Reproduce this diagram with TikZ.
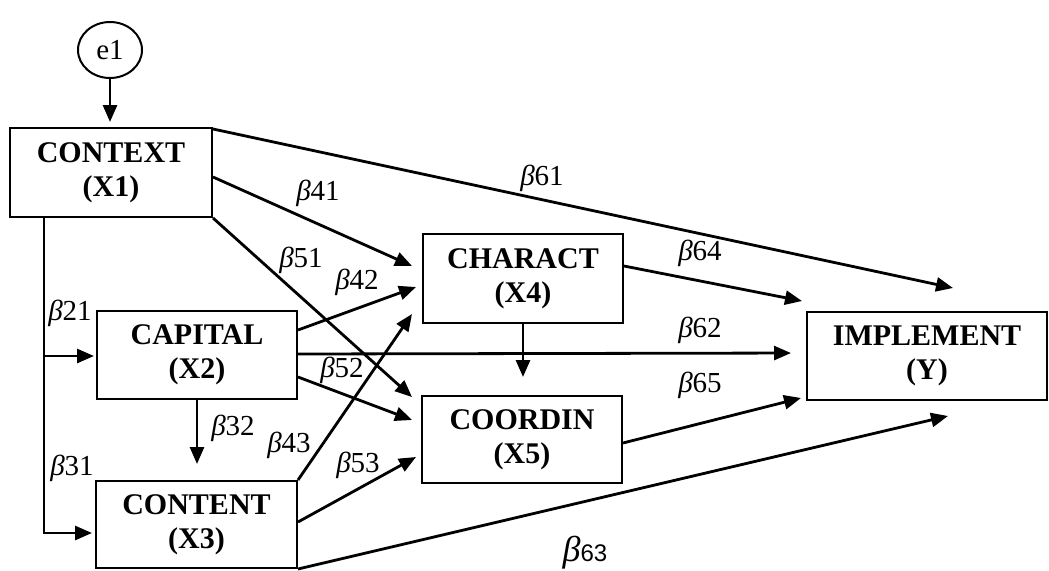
\documentclass[tikz,border=0pt]{standalone}
\usepackage{fontspec}
\setmainfont{Liberation Serif}
\newfontfamily\betasans{Liberation Sans}
\usetikzlibrary{arrows.meta,shapes.geometric,calc}

\newcommand{\coef}[1]{\textit{β}#1}

\tikzset{
  var/.style={draw, line width=2pt, rectangle, align=center,
    font=\fontsize{30}{34}\selectfont\bfseries, inner sep=0pt},
  err/.style={draw, line width=2pt, ellipse, minimum width=64pt,
    minimum height=56pt, inner sep=0pt, font=\fontsize{29}{30}\selectfont},
  path/.style={line width=2.8pt, -{Triangle[length=17pt,width=14pt]}},
  link/.style={line width=2.8pt},
  coefl/.style={font=\fontsize{29}{30}\selectfont, inner sep=0pt}
}

\begin{document}
\begin{tikzpicture}[x=1pt,y=-1pt]
  \useasboundingbox (0,0) rectangle (1049,570);

  % variables
  \node[err] (e1) at (110,50) {e1};
  \node[var, minimum width=202pt, minimum height=89pt] (ctx)  at (111,172.5) {CONTEXT\\(X1)};
  \node[var, minimum width=200pt, minimum height=88pt] (cap)  at (197,355)   {CAPITAL\\(X2)};
  \node[var, minimum width=201pt, minimum height=87pt] (cont) at (196.5,524.5) {CONTENT\\(X3)};
  \node[var, minimum width=200pt, minimum height=89pt] (char) at (523,278.5) {CHARACT\\(X4)};
  \node[var, minimum width=200pt, minimum height=87pt] (cood) at (522,439.5) {COORDIN\\(X5)};
  \node[var, minimum width=240pt, minimum height=88pt] (impl) at (927,356)   {IMPLEMENT\\(Y)};

  % error term
  \draw[path, shorten >=5pt] (e1.south) -- (ctx.north -| e1.south);

  % CONTEXT down the left side into CAPITAL and CONTENT
  \coordinate (spine) at ($(ctx.south west)+(35,0)$);
  \coordinate (capin) at ($(cap.west)+(-2,1)$);
  \coordinate (contin) at ($(cont.west)+(-3,8.5)$);
  \draw[link] (spine) -- ($(spine |- contin)+(0,1.4)$);
  \draw[path] ($(spine |- capin)+(-1.4,0)$) -- (capin);
  \draw[path] ($(spine |- contin)+(-1.4,0)$) -- (contin);

  % from CONTEXT
  \draw[path] ($(ctx.east)+(0,4.5)$) -- ($(char.west)+(-10,-12.5)$);
  \draw[path] (ctx.south east) -- ($(cood.north west)+(-9,2)$);
  \draw[path] ($(ctx.north east)+(0,2)$) -- ($(impl.north)+(26,-23)$);

  % from CAPITAL
  \draw[path] ($(cap.east)+(0,-25)$) -- ($(char.west)+(-6,8.5)$);
  \draw[path] ($(cap.east)+(0,22)$) -- ($(cood.west)+(-9,-19.5)$);
  \draw[path, shorten >=15pt] ($(cap.east)+(0,-1)$) -- ($(impl.west)+(0,-3)$);
  \draw[path, shorten >=16pt] (cap.south) -- (cont.north -| cap.south);

  % from CONTENT
  \draw[path] (cont.north east) -- ($(char.south west)+(-10,-10)$);
  \draw[path] ($(cont.east)+(0,-2.5)$) -- ($(cood.west)+(-5,17.5)$);
  \draw[path] (cont.south east) -- ($(impl.south)+(21,15)$);

  % from CHARACT and COORDIN
  \draw[path, shorten >=18pt] (char.south) -- (cood.north -| char.south);
  \draw[path] ($(char.east)+(0,-12.5)$) -- ($(impl.north west)+(-4,-10)$);
  \draw[path] ($(cood.east)+(0,3.5)$) -- ($(impl.south west)+(-5,-3)$);

  % path coefficients
  \node[coefl] (b21) at (70,313)  {\coef{21}};
  \node[coefl] (b31) at (72,468)  {\coef{31}};
  \node[coefl] (b32) at (233,428) {\coef{32}};
  \node[coefl] (b41) at (318,193) {\coef{41}};
  \node[coefl] (b51) at (301,260) {\coef{51}};
  \node[coefl] (b42) at (357,282) {\coef{42}};
  \node[coefl] (b52) at (342,370) {\coef{52}};
  \node[coefl] (b43) at (289,445) {\coef{43}};
  \node[coefl] (b53) at (358,465) {\coef{53}};
  \node[coefl] (b61) at (542,178) {\coef{61}};
  \node[coefl] (b64) at (700,253) {\coef{64}};
  \node[coefl] (b62) at (700,330) {\coef{62}};
  \node[coefl] (b65) at (700,385) {\coef{65}};
  \node[inner sep=0pt] (b63) at (585,553)
    {{\fontsize{36}{38}\selectfont\textit{β}}{\betasans\fontsize{24}{26}\selectfont 63}};
\end{tikzpicture}
\end{document}
